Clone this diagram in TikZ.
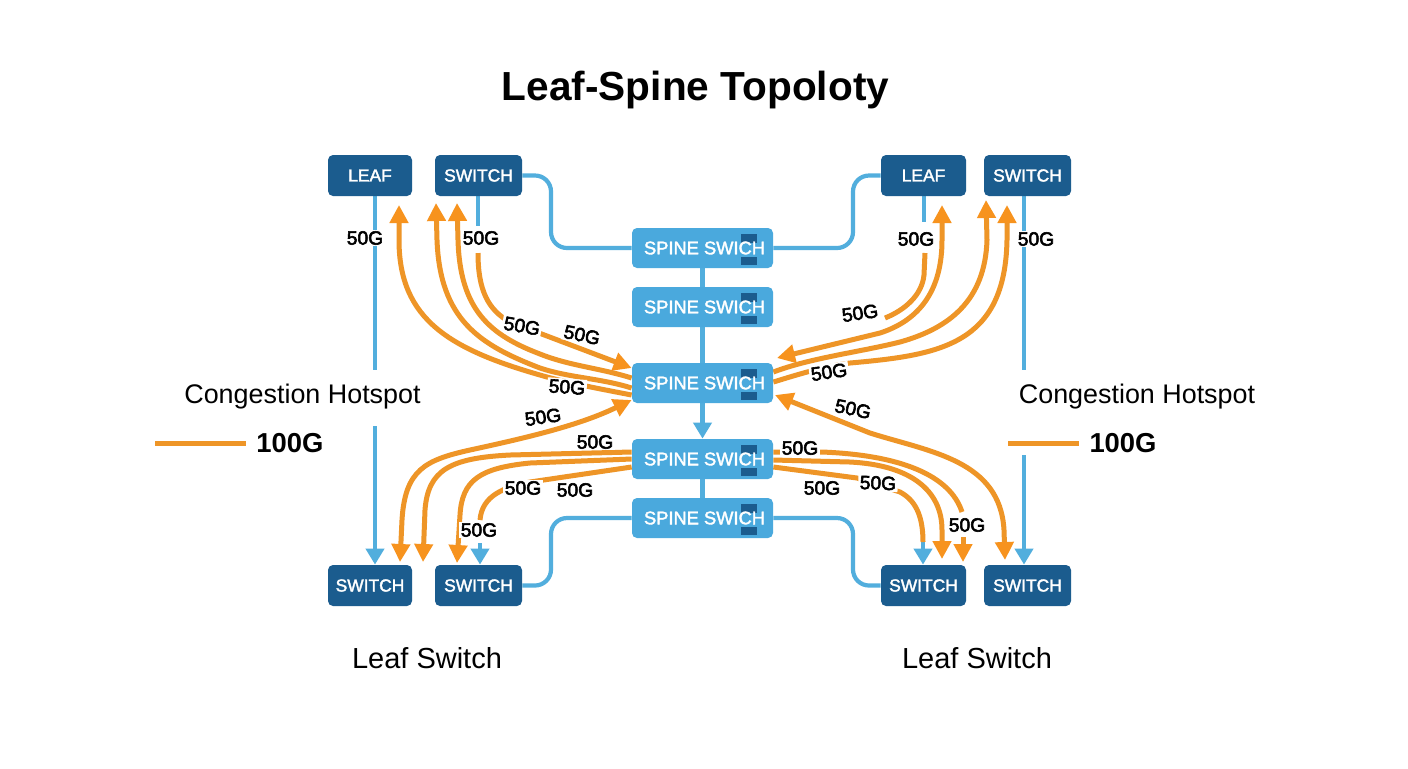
\documentclass[tikz,border=0pt]{standalone}
\usepackage{fontspec}
\setmainfont{Liberation Sans}
\newfontfamily\medfont[FakeBold=3]{Liberation Sans}
\newfontfamily\semifont[FakeBold=2]{Liberation Sans}
\usetikzlibrary{arrows.meta,backgrounds}
\definecolor{navy}{HTML}{1B5C8E}
\definecolor{sky}{HTML}{4AA9DD}
\definecolor{wire}{HTML}{52AEDD}
\definecolor{amber}{HTML}{EE9527}
\definecolor{tipamber}{HTML}{F7931E}
\tikzset{
  leafbox/.style={fill=navy,rounded corners=2.5pt,minimum height=20.5pt,inner sep=0pt,text=white,font=\fontsize{8.7}{10}\selectfont\semifont},
  spinebox/.style={fill=sky,rounded corners=2.5pt,minimum width=70.5pt,minimum height=20pt,inner sep=0pt,text=white,font=\fontsize{9.15}{11}\selectfont\semifont,
    path picture={
      \fill[navy,sharp corners] ([shift={(38,-14)}]path picture bounding box.center) rectangle ([shift={(54,-5)}]path picture bounding box.center);
      \fill[navy,sharp corners] ([shift={(38,9)}]path picture bounding box.center) rectangle ([shift={(54,17)}]path picture bounding box.center);
    }},
  gbl/.style={fill=white,inner sep=0.8pt,font=\fontsize{9.6}{11}\selectfont\medfont,text=black},
  plain/.style={font=\fontsize{13.45}{15}\selectfont,text=black,inner sep=0pt},
  hundred/.style={font=\fontsize{13.7}{15}\selectfont\bfseries,text=black,inner sep=5pt},
  wireline/.style={draw=wire,line width=2.1pt},
  wirearrow/.style={wireline,-{Triangle[width=9pt,length=8pt]}},
  flow/.style={draw=amber,line width=2.5pt},
  flowtip/.style={flow,-{Triangle[width=9pt,length=9pt,color=tipamber]}},
  flowtwo/.style={flow,{Triangle[width=9pt,length=9pt,color=tipamber]}-{Triangle[width=9pt,length=9pt,color=tipamber]}},
}
\newcommand{\spinetext}{\hspace*{2pt}SPINE SWICH}
\begin{document}
\begin{tikzpicture}[x=0.5pt,y=-0.5pt]
\useasboundingbox (0,0) rectangle (1408,768);
% nodes
\node[font=\fontsize{20.3}{24}\selectfont\bfseries] (title) at (695.5,90) {Leaf-Spine Topoloty};
\node[leafbox,minimum width=42pt] (lt1) at (370,175.5) {LEAF};
\node[leafbox,minimum width=43.5pt] (lt2) at (478.5,175.5) {SWITCH};
\node[leafbox,minimum width=42.5pt] (rt1) at (923.5,175.5) {LEAF};
\node[leafbox,minimum width=43.5pt] (rt2) at (1027.5,175.5) {SWITCH};
\node[leafbox,minimum width=42pt] (lb1) at (370,585.5) {SWITCH};
\node[leafbox,minimum width=43.5pt] (lb2) at (478.5,585.5) {SWITCH};
\node[leafbox,minimum width=42.5pt] (rb1) at (923.5,585.5) {SWITCH};
\node[leafbox,minimum width=43.5pt] (rb2) at (1027.5,585.5) {SWITCH};
\node[spinebox] (s1) at (702.5,248) {\spinetext};
\node[spinebox] (s2) at (702.5,307) {\spinetext};
\node[spinebox] (s3) at (702.5,383) {\spinetext};
\node[spinebox] (s4) at (702.5,459) {\spinetext};
\node[spinebox] (s5) at (702.5,518) {\spinetext};
\node[plain] (hotl) at (302.5,397) {Congestion Hotspot};
\node[plain] (hotr) at (1137,397) {Congestion Hotspot};
\node[hundred] (gl) at (290,443) {100G};
\node[hundred] (gr) at (1123,443) {100G};
\node[plain,font=\fontsize{14.5}{16}\selectfont] (capl) at (427,658) {Leaf Switch};
\node[plain,font=\fontsize{14.5}{16}\selectfont] (capr) at (977,658) {Leaf Switch};
% free ends
\coordinate (legl) at (155,443);
\coordinate (legr) at (1008,443);
\coordinate (bluea) at (375,370);
\coordinate (blueb) at (375,426);
\coordinate (bluec) at (1024,370);
\coordinate (blued) at (1024,455);
\coordinate (ta) at (399,205);
\coordinate (tb) at (436,203);
\coordinate (tc) at (457,203);
\coordinate (td) at (478,253);
\coordinate (te) at (478,226);
\coordinate (tf) at (924,222);
\coordinate (tg) at (925,253);
\coordinate (th) at (885,318);
\coordinate (ti) at (942,205);
\coordinate (tj) at (986,200);
\coordinate (tk) at (1007,205);
\coordinate (ba) at (400,562);
\coordinate (bb) at (423,562);
\coordinate (bc) at (457,563);
\coordinate (bd) at (480,520);
\coordinate (be) at (480,543);
\coordinate (bf) at (1005,560);
\coordinate (bg) at (962,512);
\coordinate (bh) at (963,537);
\coordinate (bi) at (963,562);
\coordinate (bj) at (942,559);
\coordinate (bk) at (923,542);
\begin{scope}[on background layer]
\fill[white] (0,0) rectangle (1408,768);
% blue wires
\draw[wireline] (lt1.south -| bluea) -- (bluea);
\draw[wirearrow] (blueb) -- (lb1.north -| blueb);
\draw[wireline] (rt2.south -| bluec) -- (bluec);
\draw[wirearrow] (blued) -- (rb2.north -| blued);
\draw[wireline] (lt2.south -| te) -- (te);
\draw[wireline] (rt1.south -| tf) -- (tf);
\draw[wireline,rounded corners=8pt] (lt2.east) -- (lt2.east -| 551,0) -- (s1.west -| 551,0) -- (s1.west);
\draw[wireline,rounded corners=8pt] (lb2.east) -- (lb2.east -| 551,0) -- (s5.west -| 551,0) -- (s5.west);
\draw[wireline,rounded corners=8pt] (rt1.west) -- (rt1.west -| 853,0) -- (s1.east -| 853,0) -- (s1.east);
\draw[wireline,rounded corners=8pt] (rb1.west) -- (rb1.west -| 853,0) -- (s5.east -| 853,0) -- (s5.east);
\draw[wireline] (s1) -- (s2);
\draw[wireline] (s2) -- (s3);
\draw[wirearrow] (s3) -- (s4);
\draw[wireline] (s4) -- (s5);
\draw[wirearrow] (be) -- (lb2.north -| be);
\draw[wirearrow] (bk) -- (rb1.north -| bk);
% legend
\draw[flow] (legl) -- (gl.west);
\draw[flow] (legr) -- (gr.west);
% left top
\draw[flowtip] (s3.west |- 0,395) .. controls (590,387) and (570,383) .. (547,377) .. controls (450,350) and (399,320) .. (399,240) -- (ta);
\draw[flowtip] (s3.west |- 0,388) .. controls (600,378) and (570,378) .. (540,368) .. controls (480,345) and (440,320) .. (437,240) -- (tb);
\draw[flowtip] (s3.west |- 0,378) .. controls (600,368) and (570,366) .. (540,354) .. controls (490,335) and (460,310) .. (458,240) -- (tc);
\draw[flowtip] (td) .. controls (478,290) and (488,310) .. (510,322) -- (s3.west |- 0,368);
% right top
\draw[flow] (tg) -- (924,275) .. controls (922,295) and (905,310) .. (th);
\draw[flowtwo] (ti) -- (942,240) .. controls (942,290) and (920,320) .. (880,333) -- (777,358);
\draw[flowtip] (s3.east |- 0,372) .. controls (810,358) and (860,352) .. (900,342) .. controls (950,328) and (985,300) .. (987,240) -- (tj);
\draw[flowtip] (s3.east |- 0,382) .. controls (790,377) and (820,367) .. (850,363) .. controls (940,355) and (1005,345) .. (1007,240) -- (tk);
% left bottom
\draw[flowtwo] (ba) -- (402,520) .. controls (405,470) and (425,460) .. (470,450) .. controls (530,437) and (580,425) .. (s3.west |- 0,400);
\draw[flowtip] (s4.west |- 0,452) -- (510,455) .. controls (450,458) and (428,470) .. (425,510) -- (bb);
\draw[flowtip] (s4.west |- 0,459) -- (530,463) .. controls (480,468) and (462,480) .. (460,515) -- (bc);
\draw[flow] (s4.west |- 0,467) -- (530,482) .. controls (505,487) and (482,495) .. (bd);
% right bottom
\draw[flowtwo] (775,395) -- (870,433) .. controls (930,452) and (1000,460) .. (1004,530) -- (bf);
\draw[flow] (s4.east |- 0,452) -- (822,452) .. controls (900,455) and (950,475) .. (bg);
\draw[flowtip] (bh) -- (bi);
\draw[flowtip] (s4.east |- 0,460) -- (850,462) .. controls (910,465) and (942,490) .. (942,530) -- (bj);
\draw[flow] (s4.east |- 0,467) -- (857,478) -- (900,492) .. controls (915,500) and (923,515) .. (bk);
\end{scope}
% labels
\node[gbl] (l1) at (365,238) {50G};
\node[gbl] (l2) at (481,238) {50G};
\node[gbl,rotate=-10] (l3) at (522,326) {50G};
\node[gbl,rotate=-12] (l4) at (582,335) {50G};
\node[gbl,rotate=-4] (l5) at (567,387) {50G};
\node[gbl,rotate=8] (l6) at (543,417) {50G};
\node[gbl] (l7) at (595,442) {50G};
\node[gbl] (l8) at (523,488) {50G};
\node[gbl] (l9) at (575,490) {50G};
\node[gbl] (l10) at (479,530) {50G};
\node[gbl] (l11) at (916,239) {50G};
\node[gbl] (l12) at (1036,239) {50G};
\node[gbl,rotate=8] (l13) at (860,313) {50G};
\node[gbl,rotate=8] (l14) at (829,372) {50G};
\node[gbl,rotate=-12] (l15) at (853,409) {50G};
\node[gbl] (l16) at (800,448) {50G};
\node[gbl,rotate=-2] (l17) at (878,483) {50G};
\node[gbl] (l18) at (822,488) {50G};
\node[gbl] (l19) at (967,525) {50G};
\end{tikzpicture}
\end{document}
